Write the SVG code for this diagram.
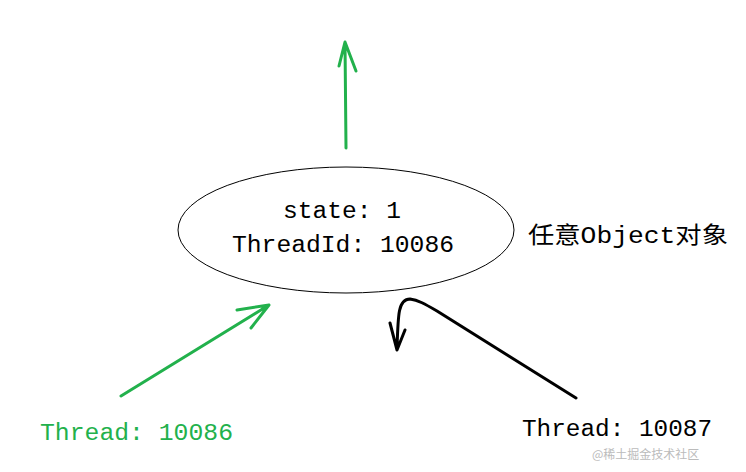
<svg xmlns="http://www.w3.org/2000/svg" width="746" height="472" viewBox="0 0 746 472">
<style>
.m{font-family:"Liberation Mono","Noto Sans CJK SC",monospace;font-size:23px}
.g{stroke:#22b14c;stroke-width:3;fill:none;stroke-linecap:round;stroke-linejoin:round}
.k{stroke:#000;stroke-width:3;fill:none;stroke-linecap:round;stroke-linejoin:round}
</style>
<rect width="746" height="472" fill="#fff"/>
<g id="node-object">
<ellipse cx="346" cy="230" rx="168" ry="63" fill="#fff" stroke="#000" stroke-width="1"/>
<text class="m" x="342" y="218" text-anchor="middle" textLength="118" lengthAdjust="spacingAndGlyphs">state: 1</text>
<text class="m" x="232" y="252" textLength="222" lengthAdjust="spacingAndGlyphs">ThreadId: 10086</text>
</g>
<g id="label-object"><text class="m" x="528" y="243" textLength="200" lengthAdjust="spacingAndGlyphs">任意Object对象</text></g>
<g id="node-t1"><text class="m" x="40" y="440" fill="#22b14c" textLength="193" lengthAdjust="spacingAndGlyphs">Thread: 10086</text></g>
<g id="node-t2"><text class="m" x="522" y="436" textLength="190" lengthAdjust="spacingAndGlyphs">Thread: 10087</text></g>
<g id="connectors">
<path class="g" d="M346 148 L345 42 M339 66 L345 42 L356 71"/>
<path class="g" d="M121 396 L269 305 M237 310 L269 305 L251 328"/>
<path class="k" d="M576 398 L437 311 C425 304 418 300 410 299 C398 299 398 315 397 350 M390 323 L397 350 L405 330"/>
</g>
<text x="592" y="459" font-family="Noto Sans CJK SC,sans-serif" font-size="12" fill="#bbb">@稀土掘金技术社区</text>
</svg>
